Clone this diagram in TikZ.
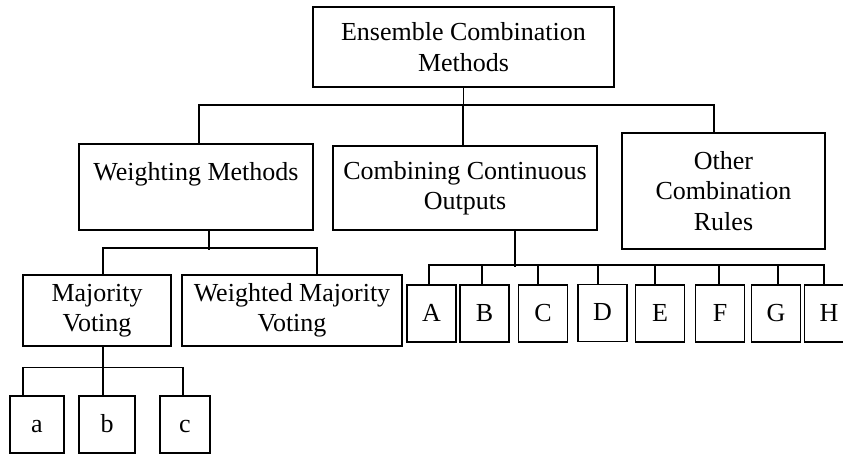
\documentclass[tikz,border=0pt]{standalone}
\usepackage{fontspec}
\setmainfont{Liberation Serif}
\usepackage{tikz}

\tikzset{
  box/.style={draw, line width=1.5pt, inner sep=0pt, align=center},
  leaf/.style={box, minimum width=49pt, minimum height=57pt, text height=17pt, text depth=2pt},
  link/.style={line width=1.5pt}
}

\begin{document}
\begin{tikzpicture}[x=1pt, y=-1pt, font=\fontsize{26}{30.5}\selectfont]
			\clip (0,0) rectangle (843,454);

			% top and first level
			\node[box, minimum width=301pt, minimum height=80pt] (ecm) at (463.5,47) {Ensemble Combination\\Methods};
			\node[box, minimum width=234pt, minimum height=86pt] (wm) at (196,187) {Weighting Methods\\\mbox{}};
			\node[box, minimum width=264pt, minimum height=84pt] (ccm) at (465,188) {Combining Continuous\\Outputs};
			\node[box, minimum width=203pt, minimum height=116pt] (ocr) at (723.5,191) {Other\\Combination\\Rules};

			\draw[link] (ecm.south) -- ++(0,19);
			\draw[link] ([xshift=3pt]wm.north) -- ++(0,-38) -| ([xshift=-9.5pt]ocr.north);
			\draw[link] ([xshift=-2pt]ccm.north) -- ++(0,-40);

			% weighting methods
			\node[box, minimum width=148pt, minimum height=71pt] (mv) at (97,310.5) {Majority\\Voting};
			\node[box, minimum width=220pt, minimum height=71pt] (wmv) at (292,310.5) {Weighted Majority\\Voting};

			\draw[link] ([xshift=13pt]wm.south) -- ++(0,19);
			\draw[link] ([xshift=6pt]mv.north) -- ++(0,-26) -| ([xshift=25pt]wmv.north);

			% majority voting
			\node[leaf, minimum width=54pt] (a) at (37,424.5) {a};
			\node[leaf, minimum width=56pt] (b) at (107,424.5) {b};
			\node[leaf, minimum width=50pt] (c) at (185,424.5) {c};

			\draw[link] ([xshift=6pt]mv.south) -- ++(0,22);
			\draw[link] ([xshift=-14pt]a.north) -- ++(0,-28) -| ([xshift=-2pt]c.north);
			\draw[link] ([xshift=-4pt]b.north) -- ++(0,-28);

			% continuous outputs
			\node[leaf] (A) at (431.5,313.5) {A};
			\node[leaf] (B) at (484.5,313.5) {B};
			\node[leaf] (C) at (543,313.5) {C};
			\node[leaf] (D) at (602.5,313) {D};
			\node[leaf] (E) at (660,313.5) {E};
			\node[leaf] (F) at (720,313.5) {F};
			\node[leaf] (G) at (776,313.5) {G};
			\node[leaf] (H) at (829,313.5) {H};

			\draw[link] ([xshift=50pt]ccm.south) -- ++(0,36);
			\draw[link] ([xshift=-2.5pt]A.north) -- ++(0,-19) -| ([xshift=-5pt]H.north);
			\foreach \n/\dx in {B/-2.5, C/-5, D/-4.5, E/-5, F/-1, G/2}
				\draw[link] ([xshift=\dx pt]\n.north) -- ++(0,-19);
		\end{tikzpicture}
\end{document}
